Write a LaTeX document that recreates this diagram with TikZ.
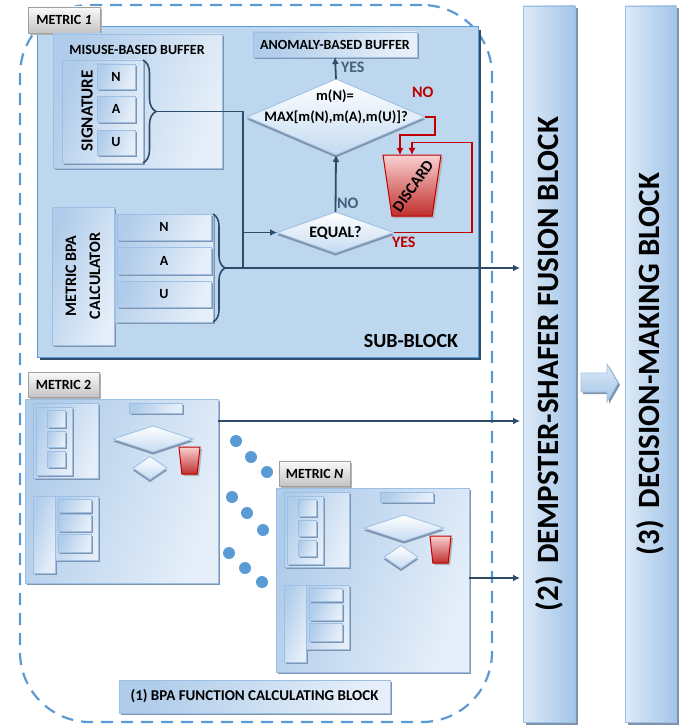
\documentclass[tikz,border=0pt]{standalone}
\usepackage{fontspec}
\setmainfont{Carlito}
\usetikzlibrary{shapes.geometric,shapes.arrows,arrows.meta,shadows,decorations.pathreplacing,calc}
\definecolor{subfill}{HTML}{BDD7EE}
\definecolor{subedge}{HTML}{5B9BD5}
\definecolor{subshadow}{HTML}{2F4D6D}
\definecolor{paneA}{HTML}{AFCCEA}
\definecolor{paneB}{HTML}{E6EFF9}
\definecolor{paneedge}{HTML}{9CBFE3}
\definecolor{shadowc}{HTML}{8194AE}
\definecolor{conn}{HTML}{2E4B69}
\definecolor{slate}{HTML}{44617B}
\definecolor{redc}{HTML}{C00000}
\definecolor{redd}{HTML}{C0302E}
\definecolor{pinkc}{HTML}{F9D0D0}
\definecolor{dashc}{HTML}{5B9BD5}
\definecolor{tabA}{HTML}{FAFAFA}
\definecolor{tabB}{HTML}{C4C4C4}
\definecolor{tabedge}{HTML}{A0A0A0}
\definecolor{tallA}{HTML}{DDEAF7}
\definecolor{tallB}{HTML}{A3C5E8}
\definecolor{diaB}{HTML}{C5DBF1}
\newcommand\fsz[2]{\fontsize{#1}{#2}\selectfont}
\newcommand\mybox[7][]{\node[#1, minimum width={(#5-#3)*1pt}, minimum height={(#6-#4)*1pt}] (#2) at ({(#3+#5)/2},{(#4+#6)/2}) {#7};}
\begin{document}
\begin{tikzpicture}[x=1pt,y=-1pt,
 every node/.style={inner sep=0pt,outer sep=0pt,font=\bfseries},
 pane/.style={draw=paneedge,line width=0.7pt,left color=paneA,right color=paneB,shading angle=70,drop shadow={shadow xshift=1.8pt,shadow yshift=-1.8pt,fill=shadowc,opacity=1}},
 tab/.style={draw=tabedge,line width=0.7pt,top color=tabA,bottom color=tabB,drop shadow={shadow xshift=2pt,shadow yshift=-2pt,fill=gray!60,opacity=1},font=\bfseries\fsz{14}{16}},
 subblk/.style={draw=subedge,line width=1pt,fill=subfill,drop shadow={shadow xshift=3pt,shadow yshift=-3pt,fill=subshadow,opacity=1}},
 tallblk/.style={draw=paneedge,line width=0.7pt,left color=tallA,right color=tallB,drop shadow={shadow xshift=2.5pt,shadow yshift=-2.5pt,fill=shadowc,opacity=1}},
 dia/.style={diamond,draw=paneedge,line width=0.8pt,top color=white,bottom color=diaB,drop shadow={shadow xshift=0pt,shadow yshift=-2.5pt,fill=shadowc,opacity=1}},
 disc/.style={trapezium,trapezium stretches=true,shape border rotate=180,inner sep=1pt,draw=redc,line width=1pt,top color=pinkc,bottom color=redd,drop shadow={shadow xshift=2pt,shadow yshift=-2pt,fill=gray!60,opacity=1}},
 cn/.style={draw=conn,line width=1.8pt},
 arr/.style={-{Latex[length=7pt,width=7pt]}},
 rn/.style={draw=redc,line width=1.8pt},
 dashreg/.style={draw=dashc,line width=2.2pt,dash pattern=on 12pt off 8pt,rounded corners=70pt},
 bluedot/.style={circle,fill=dashc,minimum size=12pt},
 lbl/.style={font=\bfseries\fsz{16}{18}},
]
\useasboundingbox (0,0) rectangle (697,725);

% (1) dashed region
\node[dashreg, minimum width=472pt, minimum height=717pt] (region) at (256,363.5) {};

% right blocks
\mybox[tallblk]{fusion}{523}{6}{575}{722}{}
\mybox[tallblk]{decision}{625}{6}{676}{722}{}
\node[rotate=90,font=\bfseries\fsz{31}{34}] (fusiontxt) at (fusion) {(2)\, DEMPSTER-SHAFER FUSION BLOCK};
\node[rotate=90,font=\bfseries\fsz{31}{34}] (dectxt) at (decision) {(3)\, DECISION-MAKING BLOCK};
\path[draw=paneedge, line width=0.7pt, top color=tallA, bottom color=tallB,
  drop shadow={shadow xshift=2pt,shadow yshift=-2pt,fill=shadowc,opacity=1}]
  (581,373) -- (607,373) -- (607,364) -- (618,383) -- (607,402) -- (607,392) -- (581,392) -- cycle;

% sub-block (metric 1)
\mybox[subblk]{sub}{37}{27}{478}{357}{}
\mybox[tab]{m1tab}{28}{7}{100}{33}{METRIC \textit{1}}
\node[anchor=east,font=\bfseries\fsz{20}{22}] (subtxt) at (458,341) {SUB-BLOCK};

% misuse-based buffer
\mybox[pane]{misuse}{53}{34}{222}{168}{}
\node[font=\bfseries\fsz{14}{16}] (misusetxt) at (137,50) {MISUSE-BASED BUFFER};
\mybox[pane]{sigpanel}{62}{60}{143}{163}{}
\node[rotate=90,font=\bfseries\fsz{17}{19}] (sigtxt) at (87,111) {SIGNATURE};
\mybox[pane,font=\bfseries\fsz{14}{16}]{sn}{97}{64}{135}{89}{N}
\mybox[pane,font=\bfseries\fsz{14}{16}]{sa}{97}{96}{135}{122}{A}
\mybox[pane,font=\bfseries\fsz{14}{16}]{su}{97}{130}{135}{155}{U}

% metric BPA calculator
\mybox[pane]{calc}{52}{207}{114}{345}{}
\node[rotate=90,align=center,font=\bfseries\fsz{16}{24}] (calctxt) at (calc) {METRIC BPA\\CALCULATOR};
\mybox[pane]{bpabg}{115}{214}{213}{322}{}
\mybox[pane,font=\bfseries\fsz{14}{16}]{bn}{117}{214}{211}{240}{N}
\mybox[pane,font=\bfseries\fsz{14}{16}]{ba}{117}{247}{211}{274}{A}
\mybox[pane,font=\bfseries\fsz{14}{16}]{bu}{117}{281}{211}{307}{U}

% anomaly buffer and decisions
\mybox[pane,font=\bfseries\fsz{14}{16}]{anom}{253}{32}{417}{57}{ANOMALY-BASED BUFFER}
\node[dia, minimum width=178pt, minimum height=76pt] (d1) at (336,117) {};
\node[font=\bfseries\fsz{14.5}{16}] (d1a) at (335,96) {m(N)=};
\node[font=\bfseries\fsz{14.5}{16}] (d1b) at (336,117) {MAX[m(N),m(A),m(U)]?};
\node[dia, minimum width=117pt, minimum height=41pt] (eq) at (335.5,232.5) {};
\node[font=\bfseries\fsz{16}{18}] (eqtxt) at (eq) {EQUAL?};
\node[disc, minimum width=58pt, minimum height=61pt, trapezium left angle=77.5, trapezium right angle=77.5] (disc) at (412,185.5) {};
\node[rotate=55,font=\bfseries\fsz{16}{18}] (disctxt) at (413,186) {DISCARD};

% braces
\draw[cn,line width=1.6pt,decorate,decoration={brace,amplitude=13pt}] (sigpanel.north east) -- (sigpanel.south east);
\draw[cn,line width=1.6pt,decorate,decoration={brace,amplitude=12pt}] (bpabg.north east) -- (bpabg.south east);
\coordinate (sigtip) at ($(sigpanel.east)+(13,0)$);
\coordinate (bpatip) at ($(bpabg.east)+(12,0)$);
\path (bpatip) ++(18,0) coordinate (junc);

% connectors
\draw[cn] (sigtip) -| (junc);
\draw[cn,arr] (junc |- eq.west) -- (eq.west);
\draw[cn,arr,shorten >=3pt] (bpatip) -- (bpatip -| fusion.west);
\draw[cn,arr] (eq.north) -- (d1.south);
\draw[cn,arr] (d1.north) -- (anom.south);
\draw[rn,arr] (d1.east) -- ++(10,0) -- ++(0,18) -| ([xshift=-12pt]disc.north);
\draw[rn,arr] (eq.east) -- ++(78,0) -- ++(0,-90) -| (disc.north);

% labels
\node[lbl,text=slate,anchor=west] (yes1) at (341,67) {YES};
\node[lbl,text=redc,anchor=west] (no1) at (412,92) {NO};
\node[lbl,text=slate,anchor=west] (no2) at (337,203) {NO};
\node[lbl,text=redc,anchor=west] (yes2) at (392,242) {YES};

% metric 2 and metric N miniatures
\foreach \p/\dx/\dy/\t in {m2/25/399/2, mN/276/488/{\textit{N}}}{
 \begin{scope}[shift={(\dx,\dy)}]
  \mybox[pane]{\p-box}{0}{0}{193}{184}{}
  \mybox[tab]{\p-tab}{3}{-27}{74}{-2}{METRIC \t}
  \mybox[pane]{\p-buf}{8}{4}{73}{79}{}
  \mybox[pane]{\p-sig}{11}{8}{47}{76}{}
  \mybox[pane]{\p-s1}{22}{11}{40}{28}{}
  \mybox[pane]{\p-s2}{22}{32}{40}{48}{}
  \mybox[pane]{\p-s3}{22}{52}{40}{68}{}
  \mybox[pane]{\p-an}{104}{4}{157}{14}{}
  \node[dia, minimum width=80pt, minimum height=26pt] (\p-d1) at (128,40) {};
  \node[dia, minimum width=34pt, minimum height=23pt] (\p-d2) at (125,69) {};
  \node[disc, minimum width=21pt, minimum height=27pt, trapezium left angle=79.5, trapezium right angle=79.5] (\p-ds) at (164.5,61.5) {};
  \mybox[pane]{\p-calc}{8}{97}{30}{174}{}
  \mybox[pane]{\p-bg}{30}{97}{73}{161}{}
  \mybox[pane]{\p-c1}{33}{100}{66}{113}{}
  \mybox[pane]{\p-c2}{33}{115}{66}{132}{}
  \mybox[pane]{\p-c3}{33}{135}{66}{153}{}
 \end{scope}
}
\draw[cn,arr,shorten >=3pt] ([yshift=-22pt]m2-box.north east) -- ([yshift=-22pt]m2-box.north east -| fusion.west);
\draw[cn,arr,shorten >=3pt] ([yshift=-90pt]mN-box.north east) -- ([yshift=-90pt]mN-box.north east -| fusion.west);

% dots
\foreach \i/\x/\y in {1/236/441, 2/251/457, 3/267/472, 4/232/497, 5/247/513, 6/263/530, 7/229/553, 8/245/568, 9/262/582}{
 \node[bluedot] (dot\i) at (\x,\y) {};
}

% bottom label
\mybox[pane,font=\bfseries\fsz{15}{17}]{bpalbl}{119}{680}{390}{713}{(1) BPA FUNCTION CALCULATING BLOCK}
\end{tikzpicture}
\end{document}
